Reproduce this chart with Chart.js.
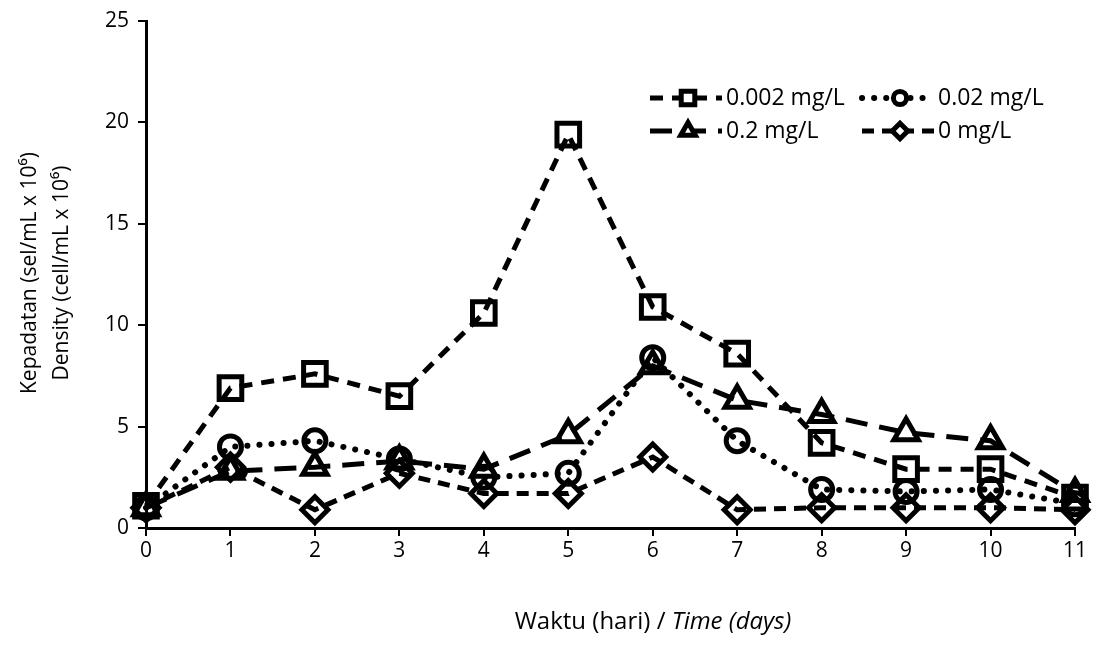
<!DOCTYPE html>
<html>
<head>
<meta charset="utf-8">
<script src="https://cdn.jsdelivr.net/npm/chart.js@4.4.1/dist/chart.umd.min.js"></script>
<style>
  html, body { margin: 0; padding: 0; background: #fff; }
  #wrap { width: 1096px; height: 646px; }
</style>
</head>
<body>
<div id="wrap"><canvas id="chart" width="1096" height="646"></canvas></div>
<script>
// hari / days
const days = ['0', '1', '2', '3', '4', '5', '6', '7', '8', '9', '10', '11'];
// kepadatan (sel/mL x 10^6)
const conc0002 = [1.1, 6.9, 7.6, 6.5, 10.6, 19.4, 10.9, 8.6, 4.2, 2.9, 2.9, 1.5];
const conc002 = [1.0, 4.0, 4.3, 3.4, 2.5, 2.7, 8.4, 4.3, 1.9, 1.8, 1.9, 1.2];
const conc02 = [1.0, 2.8, 3.0, 3.3, 2.9, 4.6, 8.0, 6.3, 5.6, 4.7, 4.3, 1.7];
const conc0 = [1.0, 3.0, 0.9, 2.7, 1.7, 1.7, 3.5, 0.9, 1.0, 1.0, 1.0, 0.9];
const seriesLabels = ['0.002 mg/L', '0.02 mg/L', '0.2 mg/L', '0 mg/L'];
const yTicks = [0, 5, 10, 15, 20, 25];

const FONT = '"Open Sans", "Liberation Sans", sans-serif';

function makeSet(label, data, style, radius, dash, cap, width) {
    return {
        label: label,
        data: data,
        borderColor: '#000',
        borderWidth: width,
        borderDash: dash,
        borderCapStyle: cap,
        pointStyle: style,
        pointRadius: radius,
        pointHoverRadius: radius,
        pointBackgroundColor: 'rgba(255,255,255,0)',
        pointBorderColor: '#000',
        pointBorderWidth: 5,
        tension: 0,
        fill: false,
        clip: false
    };
}

// tick labels drawn from the scales (so the font is under our control)
const tickPlugin = {
    id: 'tickText',
    afterDraw(chart) {
        const ctx = chart.ctx;
        const xs = chart.scales.x, ys = chart.scales.y;
        ctx.save();
        ctx.fillStyle = '#000';
        ctx.font = '21px ' + FONT;
        ctx.textAlign = 'right';
        ctx.textBaseline = 'middle';
        ys.ticks.forEach(t => {
            ctx.fillText(String(t.value), 129, ys.getPixelForValue(t.value));
        });
        ctx.textAlign = 'center';
        days.forEach((d, i) => {
            ctx.fillText(d, xs.getPixelForValue(i), 551);
        });
        ctx.restore();
    }
};

// legend drawn by hand: line sample with marker in the middle
const legendPlugin = {
    id: 'sampleLegend',
    afterDraw(chart) {
        const ctx = chart.ctx;
        const spots = [[650, 98], [862, 98], [650, 131], [862, 131]];
        chart.data.datasets.forEach((ds, i) => {
            const x0 = spots[i][0], y0 = spots[i][1];
            ctx.save();
            ctx.strokeStyle = '#000';
            ctx.lineWidth = ds.borderWidth;
            ctx.lineCap = ds.borderCapStyle;
            ctx.setLineDash(ds.borderDash);
            ctx.beginPath();
            ctx.moveTo(x0, y0);
            ctx.lineTo(x0 + 72, y0);
            ctx.stroke();
            ctx.setLineDash([]);
            ctx.fillStyle = '#fff';
            ctx.strokeStyle = '#000';
            ctx.lineWidth = 5;
            Chart.helpers.drawPoint(ctx, {
                pointStyle: ds.pointStyle,
                radius: ds.pointRadius * 0.6,
                rotation: 0,
                borderWidth: 5
            }, x0 + 38, y0);
            ctx.fillStyle = '#000';
            ctx.font = '23px ' + FONT;
            ctx.textAlign = 'left';
            ctx.textBaseline = 'middle';
            ctx.fillText(ds.label, x0 + 76, y0);
            ctx.restore();
        });
    }
};

// axis titles (x title has an italic part)
const titlePlugin = {
    id: 'axisTitles',
    afterDraw(chart) {
        const ctx = chart.ctx;
        ctx.save();
        ctx.fillStyle = '#000';
        ctx.textBaseline = 'middle';
        const normal = '24px ' + FONT;
        const italic = 'italic 24px ' + FONT;
        const a = 'Waktu (hari) / ';
        const b = 'Time (days)';
        ctx.font = normal;
        const wa = ctx.measureText(a).width;
        ctx.font = italic;
        const wb = ctx.measureText(b).width;
        let x = 653 - (wa + wb) / 2;
        ctx.font = normal;
        ctx.textAlign = 'left';
        ctx.fillText(a, x, 622);
        ctx.font = italic;
        ctx.fillText(b, x + wa, 622);

        ctx.translate(46, 273);
        ctx.rotate(-Math.PI / 2);
        ctx.textAlign = 'center';
        ctx.font = '21px ' + FONT;
        ctx.fillText('Kepadatan (sel/mL x 10\u2076)', 0, -16);
        ctx.fillText('Density (cell/mL x 10\u2076)', 0, 16);
        ctx.restore();
    }
};

new Chart(document.getElementById('chart'), {
    type: 'line',
    data: {
        labels: days,
        datasets: [
            makeSet(seriesLabels[0], conc0002, 'rect', 16, [13, 9], 'butt', 5),
            makeSet(seriesLabels[1], conc002, 'circle', 11, [0.1, 12], 'round', 6),
            makeSet(seriesLabels[2], conc02, 'triangle', 14, [22, 12], 'butt', 5),
            makeSet(seriesLabels[3], conc0, 'rectRot', 13, [12, 8], 'butt', 5)
        ]
    },
    options: {
        responsive: false,
        animation: false,
        events: [],
        layout: { padding: { top: 18, right: 18, bottom: 0, left: 0 } },
        plugins: {
            legend: { display: false },
            tooltip: { enabled: false },
            title: { display: false }
        },
        scales: {
            x: {
                offset: false,
                grid: { drawOnChartArea: false, drawTicks: true, tickLength: 8, color: '#000', lineWidth: 2 },
                border: { color: '#000', width: 3 },
                ticks: { display: false, autoSkip: false, maxRotation: 0 },
                afterFit(scale) { scale.height = 118; }
            },
            y: {
                min: 0,
                max: 25,
                afterBuildTicks(scale) { scale.ticks = yTicks.map(v => ({ value: v })); },
                grid: { drawOnChartArea: false, drawTicks: true, tickLength: 8, color: '#000', lineWidth: 2 },
                border: { color: '#000', width: 3 },
                ticks: { display: false },
                afterFit(scale) { scale.width = 146; }
            }
        }
    },
    plugins: [tickPlugin, legendPlugin, titlePlugin]
});
</script>
</body>
</html>
